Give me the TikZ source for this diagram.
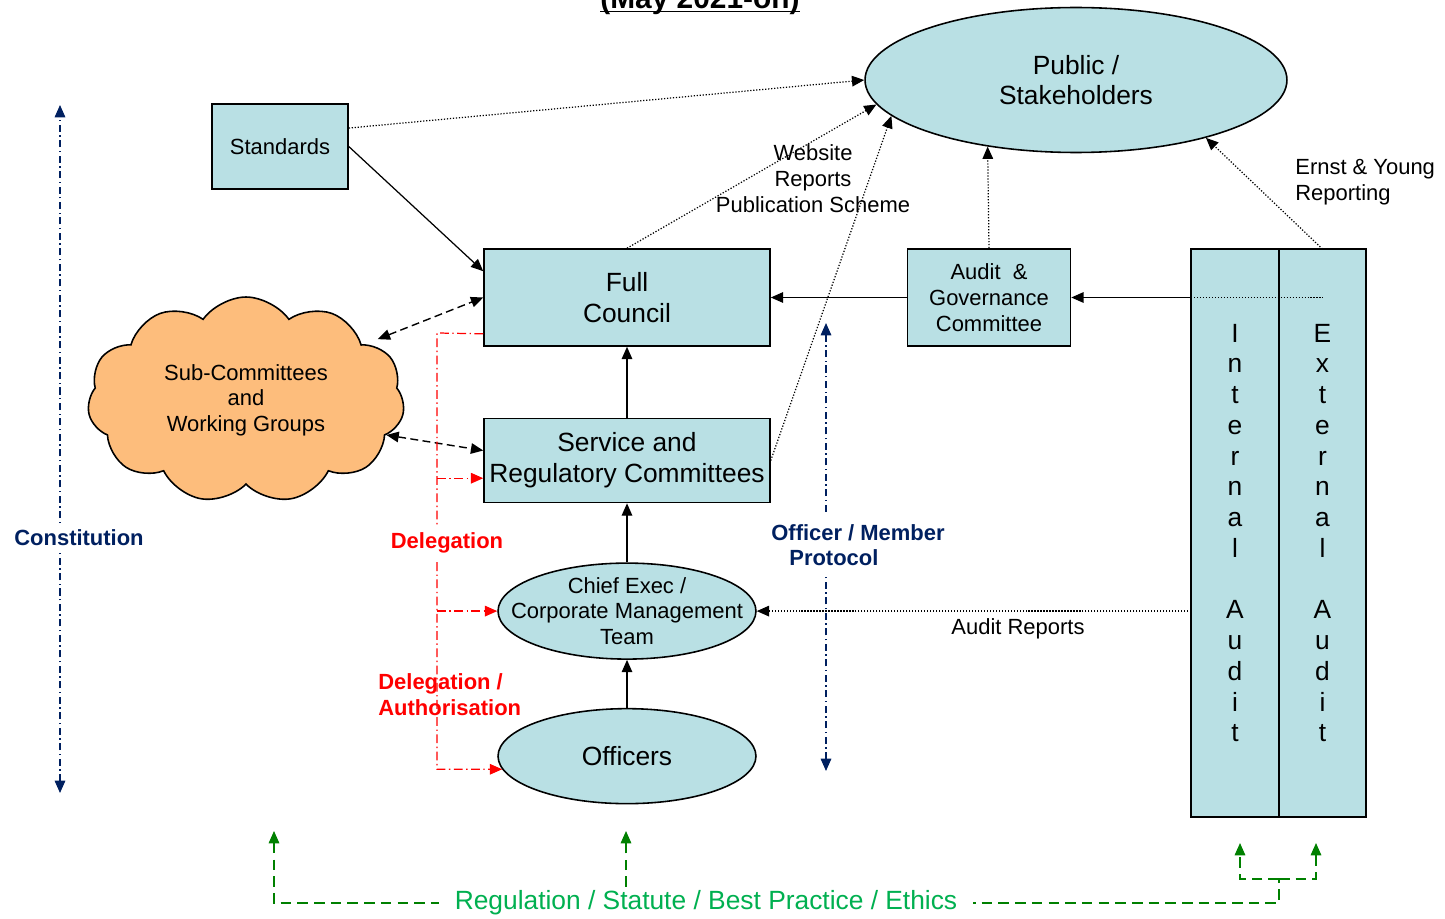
\documentclass[tikz,border=0pt]{standalone}
\usepackage{fontspec}
\setmainfont{Liberation Sans}
\usetikzlibrary{positioning,shapes.geometric,shapes.symbols,arrows.meta}

\definecolor{boxblue}{RGB}{185,224,228}
\definecolor{cloudorange}{RGB}{253,189,124}
\definecolor{navy}{RGB}{0,32,96}
\definecolor{lawgreen}{RGB}{0,128,0}
\definecolor{lawtext}{RGB}{0,176,80}

\begin{document}
\begin{tikzpicture}[
        x=0.02cm, y=-0.02cm,
        >={Triangle[length=7pt,width=6pt]},
        every node/.style={inner sep=0pt},
        smalltext/.style={font=\fontsize{12.5}{14.6}\selectfont},
        bigtext/.style={font=\fontsize{15}{17.5}\selectfont},
        boldtext/.style={font=\fontsize{12.5}{14.6}\selectfont\bfseries},
        box/.style={rectangle, draw, line width=0.9pt, fill=boxblue, align=center},
        oval/.style={ellipse, draw, line width=0.9pt, fill=boxblue, align=center},
        link/.style={->, line width=0.7pt},
        dotlink/.style={->, line width=0.7pt, densely dotted},
        cloudlink/.style={<->, line width=0.8pt, dash pattern=on 4.5pt off 2.5pt},
        deleg/.style={red, line width=0.7pt, dash pattern=on 5pt off 2pt on 0.8pt off 2pt},
        protocol/.style={<->, navy, line width=0.8pt, dash pattern=on 4pt off 2pt on 0.8pt off 2pt},
        law/.style={lawgreen, line width=0.8pt, dash pattern=on 6pt off 3.5pt},
        lbl/.style={smalltext, align=center}
        ]
        \useasboundingbox (0,0) rectangle (1445,919);

        % Define the nodes
        \node[font=\fontsize{17}{20}\selectfont\bfseries, anchor=base] (title) at (700,9) {\underline{\smash{(May 2021-on)}}};
        \node[box, bigtext, minimum width=5.72cm, minimum height=1.94cm] (council) at (627,297.5) {Full\\Council};
        \node[box, bigtext, minimum width=5.72cm, minimum height=1.68cm, below=1.42cm of council] (service) {Service and\\Regulatory Committees};
        \node[oval, smalltext, minimum width=5.16cm, minimum height=1.92cm, below=1.18cm of service] (chief) {Chief Exec /\\\makebox[0pt]{Corporate Management}\\Team};
        \node[oval, bigtext, minimum width=5.16cm, minimum height=1.9cm, below=0.96cm of chief] (officers) {Officers};
        \node[box, smalltext, minimum width=3.26cm, minimum height=1.94cm, right=2.72cm of council] (audit) {Audit ~\&\\Governance\\Committee};
        \node[box, smalltext, minimum width=2.72cm, minimum height=1.7cm] (standards) at (280,146.5) {Standards};
        \node[oval, bigtext, minimum width=8.44cm, minimum height=2.9cm] (public) at (1076,80) {Public /\\Stakeholders};
        \node[cloud, cloud puffs=11, cloud puff arc=110, aspect=1.5, draw, line width=0.9pt, fill=cloudorange, smalltext, align=center, minimum width=6.34cm, minimum height=4.12cm] (subs) at (246,400) {Sub-Committees\\and\\Working Groups};
        \node[box, bigtext, outer sep=0pt, minimum width=1.76cm, minimum height=11.36cm] (internal) at (1235,533) {I\\n\\t\\e\\r\\n\\a\\l\\[17.5pt]A\\u\\d\\i\\t};
        \node[box, bigtext, outer sep=0pt, minimum width=1.74cm, minimum height=11.36cm, right=0pt of internal] (external) {E\\x\\t\\e\\r\\n\\a\\l\\[17.5pt]A\\u\\d\\i\\t};

        % Draw the arrows
        \draw[dotlink] (standards.15) -- (public.west);
        \draw[link] (standards.east) -- ([yshift=-0.46cm]council.north west);
        \draw[dotlink] (council.north) -- (public.187);
        \draw[dotlink] (service.east) -- (public.191);
        \draw[dotlink] (audit.north) -- (public.217);
        \draw[dotlink] (external.north) -- (public.-24);
        \draw[link] (audit.west) -- (council.east);
        \draw[link] (internal.west |- audit.east) -- (audit.east);
        \draw[densely dotted, line width=0.7pt] (internal.west |- audit.east) -- (external.center |- audit.east);
        \draw[dotlink] (internal.west |- chief.east) -- (chief.east);
        \draw[link] (service.north) -- (council.south);
        \draw[link] (chief.north) -- (service.south);
        \draw[link] (officers.north) -- (chief.south);
        \draw[cloudlink] ([xshift=0.24cm,yshift=0.1cm]subs.25) -- (council.west);
        \draw[cloudlink] (subs.-14) -- (service.176);

        % Delegation
        \coordinate (delegcorner) at (437,333);
        \draw[deleg,->] ([yshift=0.26cm]council.south west) -- (delegcorner) |- (officers.186);
        \draw[deleg,->] (delegcorner |- service.187) -- (service.187);
        \draw[deleg,->] (delegcorner |- chief.west) -- (chief.west);
        \node[boldtext, text=red, fill=white, inner ysep=3pt] (delegation) at (447,543) {Delegation};
        \node[boldtext, text=red, align=left, anchor=west] (authorisation) at (378,694.5) {Delegation /\\Authorisation};

        % Constitution and protocol
        \coordinate (consttop) at (60,105);
        \coordinate (constbot) at (60,793);
        \draw[protocol] (constbot) -- (consttop);
        \node[boldtext, text=navy, fill=white, inner ysep=3pt] (constitution) at (79,538) {Constitution};
        \coordinate (prottop) at (826,323);
        \coordinate (protbot) at (826,771);
        \draw[protocol] (protbot) -- (prottop);
        \node[boldtext, text=navy, fill=white, inner ysep=5pt, align=left, anchor=west] (protlabel) at (771,545) {Officer / Member\\\hspace*{0.36cm}Protocol};

        % Labels
        \node[lbl] (channels) at (813,178.5) {Website\\Reports\\Publication Scheme};
        \node[lbl, align=left, anchor=west] (eyreport) at (1295,182.5) {Ernst \& Young\\Reporting};
        \node[lbl] (auditreports) at (1018,629) {Audit Reports};

        % Regulation
        \coordinate (lawleft) at (274,831);
        \coordinate (lawmid) at (626,831);
        \coordinate (lawcorner) at (1279,903);
        \coordinate (lawsplit) at (1279,879);
        \coordinate (lawint) at (1240,843);
        \coordinate (lawext) at (1316,843);
        \draw[law,<-] (lawleft) |- (lawcorner) -- (lawsplit);
        \draw[law,->] (lawsplit) -| (lawint);
        \draw[law,->] (lawsplit) -| (lawext);
        \node[font=\fontsize{15}{18}\selectfont, text=lawtext, fill=white, inner xsep=9pt, inner ysep=2pt] (law) at (706,903) {Regulation / Statute / Best Practice / Ethics};
        \draw[law,->] (law.north -| lawmid) -- (lawmid);
    \end{tikzpicture}
\end{document}
